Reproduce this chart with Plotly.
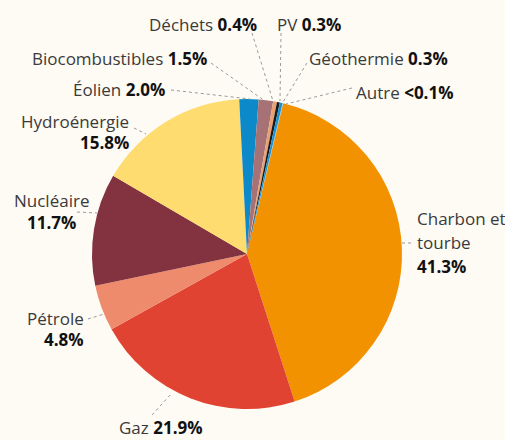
import plotly.graph_objects as go

# ---- data ----
labels = ["Charbon et tourbe", "Gaz", "Pétrole", "Nucléaire", "Hydroénergie",
          "Éolien", "Biocombustibles", "Déchets", "PV", "Géothermie", "Autre"]
values = [41.3, 21.9, 4.8, 11.7, 15.8, 2.0, 1.5, 0.4, 0.3, 0.3, 0.05]
value_labels = ["41.3%", "21.9%", "4.8%", "11.7%", "15.8%", "2.0%", "1.5%",
                "0.4%", "0.3%", "0.3%", "<0.1%"]
# how each label is broken into lines on the chart
label_lines = [["Charbon et", "tourbe"], ["Gaz"], ["Pétrole"], ["Nucléaire"], ["Hydroénergie"],
               ["Éolien"], ["Biocombustibles"], ["Déchets"], ["PV"], ["Géothermie"], ["Autre"]]
value_own_line = [True, False, True, True, True, False, False, False, False, False, False]

# ---- styles ----
colors = ["#f39200", "#e04331", "#ee8b6d", "#83323f", "#fedc6f",
          "#0b89c9", "#a77276", "#eaa171", "#1a1a1a", "#1d93d2", "#83c9ea"]
W, H = 505, 440
BG = "#fefaf4"
CX, CY, R = 247, 254, 155

# label placement (pixels): x, y of first line, xanchor, line gap
label_pos = [
    (415, 218, "left", 24),
    (205, 427, "right", 0),
    (86, 318, "right", 21),
    (51, 200, "center", 22),
    (131, 121, "right", 21),
    (167, 89, "right", 0),
    (209, 59, "right", 0),
    (259, 24, "right", 0),
    (275, 24, "left", 0),
    (307, 59, "left", 0),
    (354, 92, "left", 0),
]
# leader lines (pixels): x0, y0, x1, y1
leaders = [
    (402, 243, 412, 243),
    (152, 415, 171, 394),
    (88, 319, 104, 314),
    (77, 212, 97, 213),
    (134, 128, 146, 134),
    (171, 90, 250, 99),
    (211, 63, 265, 101),
    (252, 33, 273, 101),
    (281, 33, 280, 101),
    (307, 63, 283, 102),
    (352, 88, 286, 104),
]


def px(x, y):
    return x / W, 1 - y / H


fig = go.Figure(go.Pie(
    labels=labels, values=values, sort=False, direction="clockwise",
    rotation=13.5, marker=dict(colors=colors, line=dict(width=0)),
    textinfo="none", hoverinfo="label+percent", showlegend=False,
    domain=dict(x=[(CX - R) / W, (CX + R) / W], y=[1 - (CY + R) / H, 1 - (CY - R) / H]),
))

FONT = "Open Sans"
FS = 17
NAME_C = "#3a3a3a"
for i, parts in enumerate(label_lines):
    x, y, xa, gap = label_pos[i]
    val = f"<b style='color:#111'>{value_labels[i]}</b>"
    if value_own_line[i]:
        rows = parts + [val]
    else:
        rows = parts[:-1] + [f"{parts[-1]} {val}"]
    for k, row in enumerate(rows):
        ax, ay = px(x, y + k * gap)
        fig.add_annotation(x=ax, y=ay, xref="paper", yref="paper", text=row,
                           showarrow=False, xanchor=xa, yanchor="middle",
                           font=dict(family=FONT, size=FS, color=NAME_C))
    x0, y0, x1, y1 = leaders[i]
    p0, p1 = px(x0, y0), px(x1, y1)
    fig.add_shape(type="line", xref="paper", yref="paper",
                  x0=p0[0], y0=p0[1], x1=p1[0], y1=p1[1],
                  line=dict(color="#9a9a9a", width=1, dash="dot"))

fig.update_layout(width=W, height=H, margin=dict(l=0, r=0, t=0, b=0),
                  paper_bgcolor=BG, plot_bgcolor=BG)
fig.write_html("out.html", config={"displayModeBar": False},
               post_script="document.body.style.margin='0';document.body.style.background='" + BG + "';")
